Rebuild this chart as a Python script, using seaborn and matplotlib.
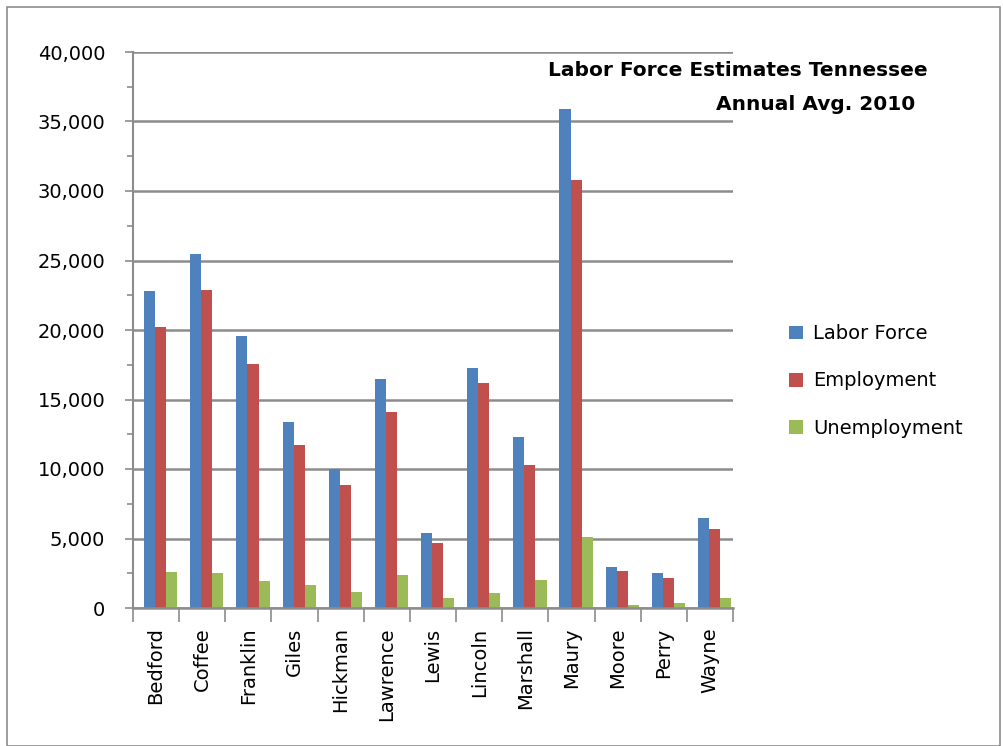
import matplotlib
matplotlib.use("Agg")
import matplotlib.pyplot as plt
import seaborn as sns
import pandas as pd
import numpy as np
from matplotlib.patches import Rectangle, Patch
from matplotlib.ticker import FuncFormatter, MultipleLocator, FixedLocator

counties = ["Bedford", "Coffee", "Franklin", "Giles", "Hickman", "Lawrence", "Lewis",
            "Lincoln", "Marshall", "Maury", "Moore", "Perry", "Wayne"]
labor_force = [22800, 25500, 19600, 13400, 10000, 16500, 5400, 17300, 12300, 35900, 2950, 2550, 6500]
employment = [20200, 22900, 17550, 11700, 8850, 14100, 4650, 16200, 10300, 30800, 2650, 2150, 5650]
unemployment = [2600, 2550, 1950, 1650, 1150, 2400, 750, 1100, 2000, 5100, 250, 350, 750]
series_names = ["Labor Force", "Employment", "Unemployment"]
colors = ["#4F81BD", "#C0504D", "#9BBB59"]
y_ticks = [0, 5000, 10000, 15000, 20000, 25000, 30000, 35000, 40000]
title_lines = ["Labor Force Estimates Tennessee", "Annual Avg. 2010"]

rows = []
for name, vals in zip(series_names, [labor_force, employment, unemployment]):
    for c, v in zip(counties, vals):
        rows.append({"County": c, "Series": name, "Value": v})
df = pd.DataFrame(rows)

sns.set_theme(style="white")
plt.rcParams['font.family'] = ['DejaVu Sans']
plt.rcParams['text.color'] = 'black'

fig = plt.figure(figsize=(10.04, 7.46), dpi=100)
ax = fig.add_axes([133/1004, 1-608/746, 600/1004, 556/746])

sns.barplot(data=df, x="County", y="Value", hue="Series", order=counties,
            hue_order=series_names, palette=colors, width=0.72, ax=ax,
            edgecolor="none", saturation=1, legend=False)

# slight rightward offset as in the 3D-style original
for p in ax.patches:
    p.set_x(p.get_x() + 0.1)

ax.set_ylim(0, 40000)
ax.set_xlim(-0.5, len(counties) - 0.5)
ax.set_yticks(y_ticks)
ax.yaxis.set_major_formatter(FuncFormatter(lambda v, p: f"{int(v):,}"))
ax.yaxis.set_minor_locator(MultipleLocator(2500))
ax.grid(axis="y", color="#8c8c8c", linewidth=1.8, zorder=0)
ax.set_axisbelow(True)
ax.set_xlabel("")
ax.set_ylabel("")

for s in ["top", "right"]:
    ax.spines[s].set_visible(False)
ax.spines["left"].set_color("#8c8c8c")
ax.spines["left"].set_linewidth(1.5)
ax.spines["bottom"].set_color("#8c8c8c")
ax.spines["bottom"].set_linewidth(1.8)

ax.tick_params(axis="y", which="major", length=6, color="#8c8c8c", width=1.2,
               labelsize=14, labelcolor="black", left=True, pad=14)
ax.tick_params(axis="y", which="minor", length=4, color="#8c8c8c", width=1.2, left=True)
ax.set_xticks(range(len(counties)))
ax.set_xticklabels(counties, rotation=90, fontsize=14, color="black")
ax.xaxis.set_minor_locator(FixedLocator(np.arange(-0.5, len(counties), 1.0)))
ax.tick_params(axis="x", which="major", length=0, pad=14)
ax.tick_params(axis="x", which="minor", length=10, color="#8c8c8c", width=1.2, bottom=True)

handles = [Patch(facecolor=c, edgecolor="none") for c in colors]
leg = fig.legend(handles, series_names, loc="center left", bbox_to_anchor=(772/1004, 1-381/746),
                 frameon=False, fontsize=14, labelspacing=1.45, handlelength=0.7,
                 handleheight=0.7, handletextpad=0.5)
for t in leg.get_texts():
    t.set_color("black")

fig.text(928/1004, 1-70/746, title_lines[0], ha="right", va="center",
         fontsize=14.5, fontweight="bold", color="black")
fig.text(915/1004, 1-104/746, title_lines[1], ha="right", va="center",
         fontsize=14.5, fontweight="bold", color="black")

fig.patches.append(Rectangle((7/1004, 0.0), 993/1004, 1 - 7/746, transform=fig.transFigure,
                             fill=False, edgecolor="#8c8c8c", linewidth=1.2))

fig.savefig("out.png", dpi=100)
